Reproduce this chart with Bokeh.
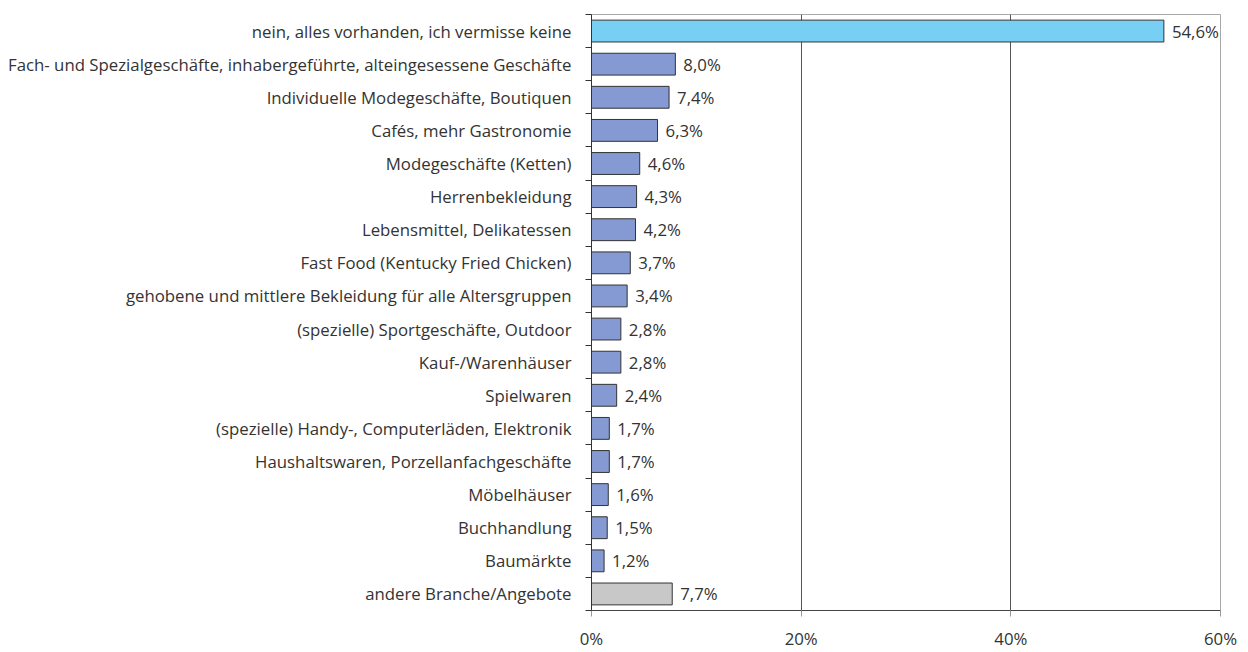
from bokeh.plotting import figure
from bokeh.models import ColumnDataSource, Range1d, FixedTicker, LabelSet
from bokeh.core.properties import value
from bokeh.embed import file_html
from bokeh.resources import INLINE

categories = [
    "nein, alles vorhanden, ich vermisse keine",
    "Fach- und Spezialgeschäfte, inhabergeführte, alteingesessene Geschäfte",
    "Individuelle Modegeschäfte, Boutiquen",
    "Cafés, mehr Gastronomie",
    "Modegeschäfte (Ketten)",
    "Herrenbekleidung",
    "Lebensmittel, Delikatessen",
    "Fast Food (Kentucky Fried Chicken)",
    "gehobene und mittlere Bekleidung für alle Altersgruppen",
    "(spezielle) Sportgeschäfte, Outdoor",
    "Kauf-/Warenhäuser",
    "Spielwaren",
    "(spezielle) Handy-, Computerläden, Elektronik",
    "Haushaltswaren, Porzellanfachgeschäfte",
    "Möbelhäuser",
    "Buchhandlung",
    "Baumärkte",
    "andere Branche/Angebote",
]
values = [54.6, 8.0, 7.4, 6.3, 4.6, 4.3, 4.2, 3.7, 3.4, 2.8, 2.8, 2.4, 1.7, 1.7, 1.6, 1.5, 1.2, 7.7]
value_labels = ["54,6%", "8,0%", "7,4%", "6,3%", "4,6%", "4,3%", "4,2%", "3,7%", "3,4%", "2,8%",
                "2,8%", "2,4%", "1,7%", "1,7%", "1,6%", "1,5%", "1,2%", "7,7%"]
x_ticks = [0, 20, 40, 60]
x_tick_labels = ["0%", "20%", "40%", "60%"]

n = len(categories)
colors = ["#77D0F4"] + ["#8599D2"] * (n - 2) + ["#C8C8C8"]
ypos = [n - 1 - i for i in range(n)]

src = ColumnDataSource(dict(y=ypos, v=[v / 100 for v in values], lab=value_labels, c=colors))

FONT = "Open Sans"
TXT = "#333333"
FS = "16.8px"

p = figure(width=1240, height=652, output_backend="svg", toolbar_location=None,
           x_range=Range1d(0, 0.6), y_range=Range1d(-0.5, n - 0.5),
           min_border_left=591, min_border_right=20, min_border_top=14, min_border_bottom=41)

p.hbar(y="y", right="v", left=0, height=0.66, source=src, fill_color="c",
       line_color="#333333", line_width=1)

labels = LabelSet(x="v", y="y", text="lab", source=src, x_offset=8, y_offset=0,
                  text_font=value(FONT), text_font_size=value(FS), text_color=TXT,
                  text_baseline="middle", text_align="left")
p.add_layout(labels)

# y axis: labels at centers, ticks at category boundaries
p.yaxis.ticker = FixedTicker(ticks=ypos, minor_ticks=[k - 0.5 for k in range(n + 1)])
p.yaxis.major_label_overrides = {yy: categories[i] for i, yy in enumerate(ypos)}
p.yaxis.major_tick_out = 0
p.yaxis.major_tick_in = 0
p.yaxis.minor_tick_out = 6
p.yaxis.minor_tick_in = 0
p.yaxis.minor_tick_line_color = "#333333"
p.yaxis.axis_line_color = "#333333"
p.yaxis.major_label_text_font = FONT
p.yaxis.major_label_text_font_size = FS
p.yaxis.major_label_text_color = TXT
p.yaxis.major_label_standoff = 14

p.xaxis.ticker = FixedTicker(ticks=[t / 100 for t in x_ticks])
p.xaxis.major_label_overrides = {t / 100: lab for t, lab in zip(x_ticks, x_tick_labels)}
p.xaxis.major_tick_out = 6
p.xaxis.major_tick_in = 0
p.xaxis.major_tick_line_color = "#999999"
p.xaxis.minor_tick_line_color = None
p.xaxis.axis_line_color = "#444444"
p.xaxis.major_label_text_font = FONT
p.xaxis.major_label_text_font_size = FS
p.xaxis.major_label_text_color = TXT
p.xaxis.major_label_standoff = 10

p.ygrid.grid_line_color = None
p.xgrid.ticker = FixedTicker(ticks=[t / 100 for t in x_ticks])
p.xgrid.grid_line_color = "#555555"
p.xgrid.grid_line_width = 1
p.outline_line_color = "#a8a8a8"
p.outline_line_width = 1

open("out.html", "w").write(file_html(p, INLINE))
